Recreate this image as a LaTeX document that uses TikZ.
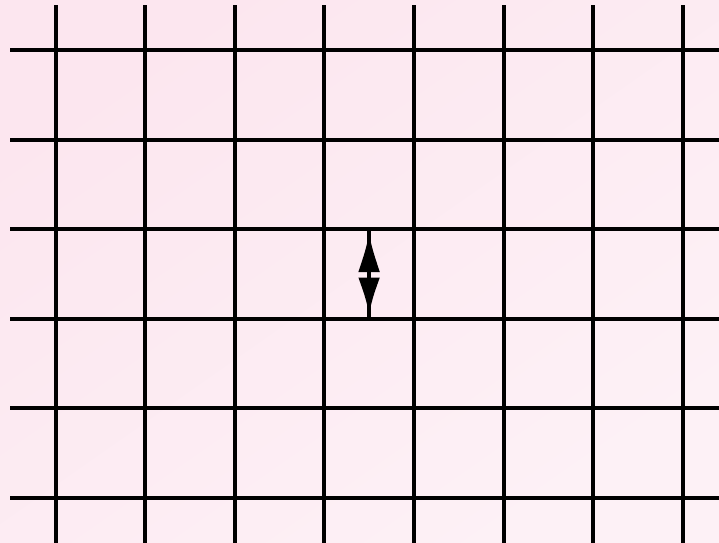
\documentclass[tikz,border=0pt]{standalone}
\begin{document}
\begin{tikzpicture}[x=0.75pt,y=-0.75pt,
  gridline/.style={line width=3pt,black},
  headfill/.style={fill=black}]
\definecolor{bgA}{RGB}{252,230,239}
\definecolor{bgB}{RGB}{253,241,246}
\useasboundingbox (0,0) rectangle (719,543);
\shade[top color=bgA,bottom color=bgB,shading angle=35] (0,0) rectangle (719,543);
\foreach \i in {0,...,7} {
  \draw[gridline] (55.5+89.6*\i,5) -- (55.5+89.6*\i,543);
}
\foreach \j in {0,...,5} {
  \draw[gridline] (10,50+89.6*\j) -- (719,50+89.6*\j);
}
% double-headed marker between two horizontal lines
\coordinate (top) at (369.1,229.2);
\coordinate (bot) at (369.1,318.8);
\draw[line width=2.6pt] (top) -- (bot);
\fill[headfill] (369.1,235) .. controls (373.2,252) .. (379.8,272)
  -- (358.4,272) .. controls (365,252) .. cycle;
\fill[headfill] (369.1,313) .. controls (373.2,296) .. (379.8,277.5)
  -- (358.4,277.5) .. controls (365,296) .. cycle;
\end{tikzpicture}
\end{document}
